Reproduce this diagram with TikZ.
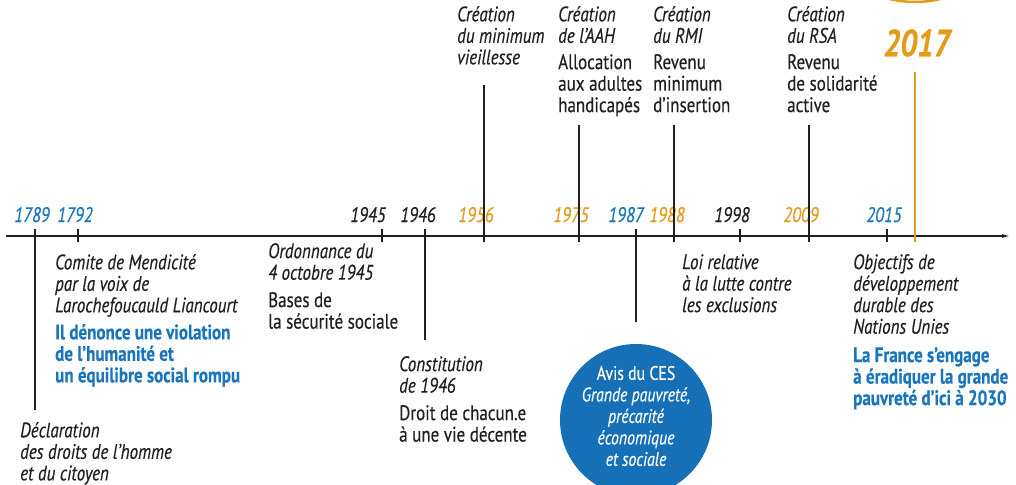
\documentclass[tikz,border=0pt]{standalone}
\usepackage{fontspec}
\setmainfont{PT Sans}[FakeStretch=0.81, FakeBold=0.4]
\usetikzlibrary{positioning, arrows.meta}
\definecolor{tlblue}{HTML}{1B75BC}
\definecolor{tlorange}{HTML}{E39B1B}
\definecolor{tldark}{HTML}{231F20}
\definecolor{cesblue}{HTML}{1570B8}

\begin{document}
\begin{tikzpicture}[x=1pt, y=-1pt,
    yearlabel/.style={font=\fontsize{21}{22}\selectfont\itshape, inner sep=0pt, anchor=base},
    evtitle/.style={font=\fontsize{21}{21.5}\selectfont\itshape, text=tldark, align=left, inner sep=0pt, anchor=north west},
    evbody/.style={font=\fontsize{21}{21.5}\selectfont, text=tldark, align=left, inner sep=0pt, anchor=north west},
    evnote/.style={font=\fontsize{21}{21.5}\selectfont\bfseries, text=tlblue, align=left, inner sep=0pt, anchor=north west},
    stem/.style={line width=2.4pt, draw=tldark},
    cesnode/.style={circle, fill=cesblue, minimum size=152pt, inner sep=0pt}
]
\useasboundingbox (0,0) rectangle (1016,484);
\clip (0,0) rectangle (1016,484);

% axis
\coordinate (axstart) at (6,236);
\coordinate (axend) at (1010,236);
\draw[line width=1.2pt, tldark, -{Latex[length=8pt, width=4pt]}] (axstart) -- (axend);
\coordinate (dotl) at (86,236);
\coordinate (dotr) at (377,236);
\draw[line width=1pt, tldark, dash pattern=on 2pt off 2pt] (dotl) -- (dotr);

% years
\node[yearlabel, text=tlblue](y1789) at (32,222) {1789};
\node[yearlabel, text=tlblue](y1792) at (75,222) {1792};
\node[yearlabel, text=tldark](y1945) at (368,222) {1945};
\node[yearlabel, text=tldark](y1946) at (418,222) {1946};
\node[yearlabel, text=tlorange](y1956) at (476,222) {1956};
\node[yearlabel, text=tlorange](y1975) at (571,222) {1975};
\node[yearlabel, text=tlblue](y1987) at (626,222) {1987};
\node[yearlabel, text=tlorange](y1988) at (667,222) {1988};
\node[yearlabel, text=tldark](y1998) at (732,222) {1998};
\node[yearlabel, text=tlorange](y2009) at (801,222) {2009};
\node[yearlabel, text=tlblue](y2015) at (884,222) {2015};
\node[font=\fontsize{38}{40}\selectfont\bfseries\itshape, text=tlorange, inner sep=0pt](y2017) at (917,43) {2017};

% ticks and stems
\coordinate (t1789) at (35,229);   \coordinate (s1789) at (35,410);
\coordinate (t1792) at (78,229);   \coordinate (s1792) at (78,242);
\coordinate (t1945) at (382,229);  \coordinate (s1945) at (382,242);
\coordinate (t1946) at (425,229);  \coordinate (s1946) at (425,340);
\coordinate (t1956) at (484,242);  \coordinate (s1956) at (484,85);
\coordinate (t1975) at (579,242);  \coordinate (s1975) at (579,125);
\coordinate (t1987) at (636,229);  \coordinate (s1987) at (636,322);
\coordinate (t1988) at (674,242);  \coordinate (s1988) at (674,125);
\coordinate (t1998) at (740,229);  \coordinate (s1998) at (740,242);
\coordinate (t2009) at (809,242);  \coordinate (s2009) at (809,125);
\coordinate (t2015) at (887,229);  \coordinate (s2015) at (887,242);
\coordinate (t2017) at (915,242);  \coordinate (s2017) at (915,72);

\draw[stem] (t1789) -- (s1789);
\draw[stem] (t1792) -- (s1792);
\draw[stem] (t1945) -- (s1945);
\draw[stem] (t1946) -- (s1946);
\draw[stem] (t1956) -- (s1956);
\draw[stem] (t1975) -- (s1975);
\draw[stem] (t1987) -- (s1987);
\draw[stem] (t1988) -- (s1988);
\draw[stem] (t1998) -- (s1998);
\draw[stem] (t2009) -- (s2009);
\draw[stem] (t2015) -- (s2015);
\draw[stem, draw=tlorange] (t2017) -- (s2017);

% 2017 ring
\draw[line width=2.5pt, tlorange] (915,-103) circle (105);

% above the axis
\node[evtitle](e1956) at (457,6) {Création\\du minimum\\vieillesse};
\node[evtitle](e1975) at (558,6) {Création\\de l’AAH};
\node[evbody](b1975) at (558,54) {Allocation\\aux adultes\\handicapés};
\node[evtitle](e1988) at (653,6) {Création\\du RMI};
\node[evbody](b1988) at (653,54) {Revenu\\minimum\\d’insertion};
\node[evtitle](e2009) at (787,6) {Création\\du RSA};
\node[evbody](b2009) at (787,54) {Revenu\\de solidarité\\active};

% below the axis
\node[evtitle](e1792) at (55,254) {Comite de Mendicité\\par la voix de\\Larochefoucauld Liancourt};
\node[evnote](n1792) at (55,324) {Il dénonce une violation\\de l’humanité et\\un équilibre social rompu};
\node[evtitle](e1789) at (20,422) {Déclaration\\des droits de l’homme\\et du citoyen};
\node[evtitle](e1945) at (268,243) {Ordonnance du\\4 octobre 1945};
\node[evbody](b1945) at (268,292) {Bases de\\la sécurité sociale};
\node[evtitle](e1946) at (399,356) {Constitution\\de 1946};
\node[evbody](b1946) at (399,405) {Droit de chacun.e\\à une vie décente};
\node[evtitle](e1998) at (682,254) {Loi relative\\à la lutte contre\\les exclusions};
\node[evtitle](e2015) at (853,254) {Objectifs de\\développement\\durable des\\Nations Unies};
\node[evnote](n2015) at (853,347) {La France s’engage\\à éradiquer la grande\\pauvreté d’ici à 2030};

% CES
\node[cesnode](ces) at (636,420) {};
\node[font=\fontsize{19.5}{21.5}\selectfont, text=white, align=center, inner sep=0pt](cestext) at (636,416)
    {Avis du CES\\\itshape Grande pauvreté,\\\itshape précarité\\\itshape économique\\\itshape et sociale};
\end{tikzpicture}
\end{document}
